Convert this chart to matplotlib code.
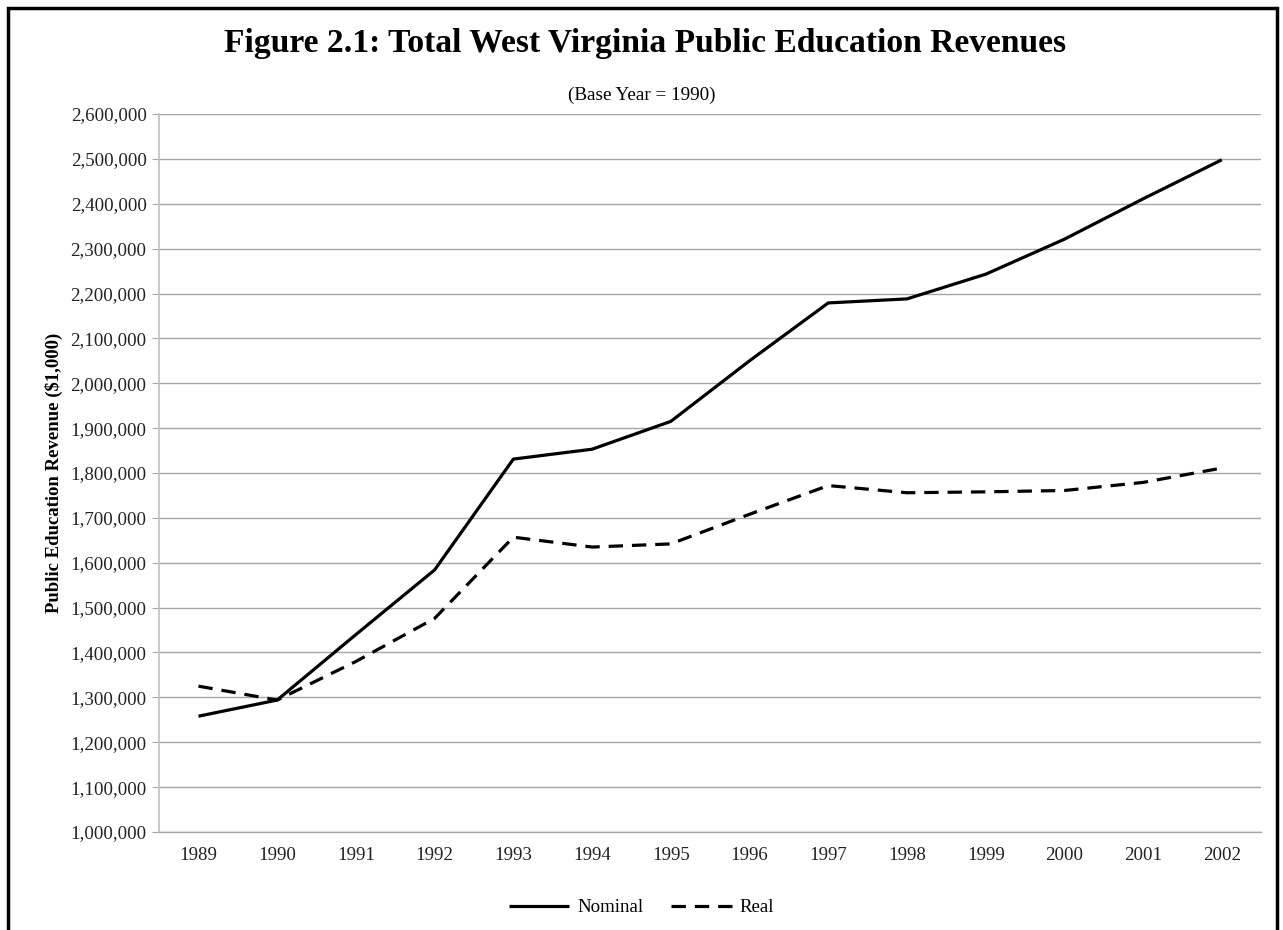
import matplotlib
matplotlib.use("Agg")
import matplotlib.pyplot as plt
from matplotlib.patches import Rectangle
from matplotlib.ticker import FuncFormatter, MultipleLocator

years = ["1989", "1990", "1991", "1992", "1993", "1994", "1995",
         "1996", "1997", "1998", "1999", "2000", "2001", "2002"]
nominal = [1258000, 1294000, 1440000, 1584000, 1831000, 1853000, 1915000,
           2050000, 2179000, 2188000, 2243000, 2321000, 2411000, 2498000]
real = [1325000, 1294000, 1380000, 1476000, 1657000, 1635000, 1642000,
        1708000, 1772000, 1756000, 1758000, 1761000, 1779000, 1811000]

plt.rcParams['font.family'] = ['Liberation Serif', 'DejaVu Serif']

fig = plt.figure(figsize=(12.83, 9.30), dpi=100)
ax = fig.add_axes([0.124, 0.1054, 0.859, 0.7720])

x = range(len(years))
ax.plot(x, nominal, color='black', lw=2.3, label='Nominal', solid_capstyle='butt')
ax.plot(x, real, color='black', lw=2.3, dashes=(4.5, 2.8), label='Real')

ax.set_xlim(-0.5, len(years) - 0.5)
ax.set_ylim(1000000, 2600000)
ax.yaxis.set_major_locator(MultipleLocator(100000))
ax.yaxis.set_major_formatter(FuncFormatter(lambda v, p: f"{int(v):,}"))
ax.set_xticks(list(x))
ax.set_xticklabels(years)

ax.grid(axis='y', color='#a6a6a6', lw=1)
ax.set_axisbelow(True)
for s in ['top', 'right']:
    ax.spines[s].set_visible(False)
ax.spines['left'].set_color('#bfbfbf')
ax.spines['bottom'].set_color('#a6a6a6')
ax.spines['left'].set_linewidth(1.2)
ax.spines['bottom'].set_linewidth(1)
ax.tick_params(axis='y', length=5, color='#a6a6a6', labelsize=13.6, pad=4, labelcolor='#222222')
ax.tick_params(axis='x', length=0, labelsize=13.6, pad=11, labelcolor='#222222')

ax.set_ylabel('Public Education Revenue ($1,000)', fontsize=13.5, fontweight='bold', labelpad=5)

fig.text(0.503, 0.953, 'Figure 2.1: Total West Virginia Public Education Revenues',
         ha='center', va='center', fontsize=24.2, fontweight='bold')
fig.text(0.5, 0.897, '(Base Year = 1990)', ha='center', va='center', fontsize=13.8)

leg = fig.legend(loc='center', bbox_to_anchor=(0.5, 0.024), ncol=2, frameon=False,
                 fontsize=13.6, handlelength=3.2, columnspacing=1.5, handletextpad=0.4)

fig.patches.append(Rectangle((8 / 1283, -0.05), (1277 - 8) / 1283, 1.05 - 8 / 930,
                             transform=fig.transFigure, fill=False,
                             edgecolor='black', lw=2.5))

fig.savefig('out.png', dpi=100)
